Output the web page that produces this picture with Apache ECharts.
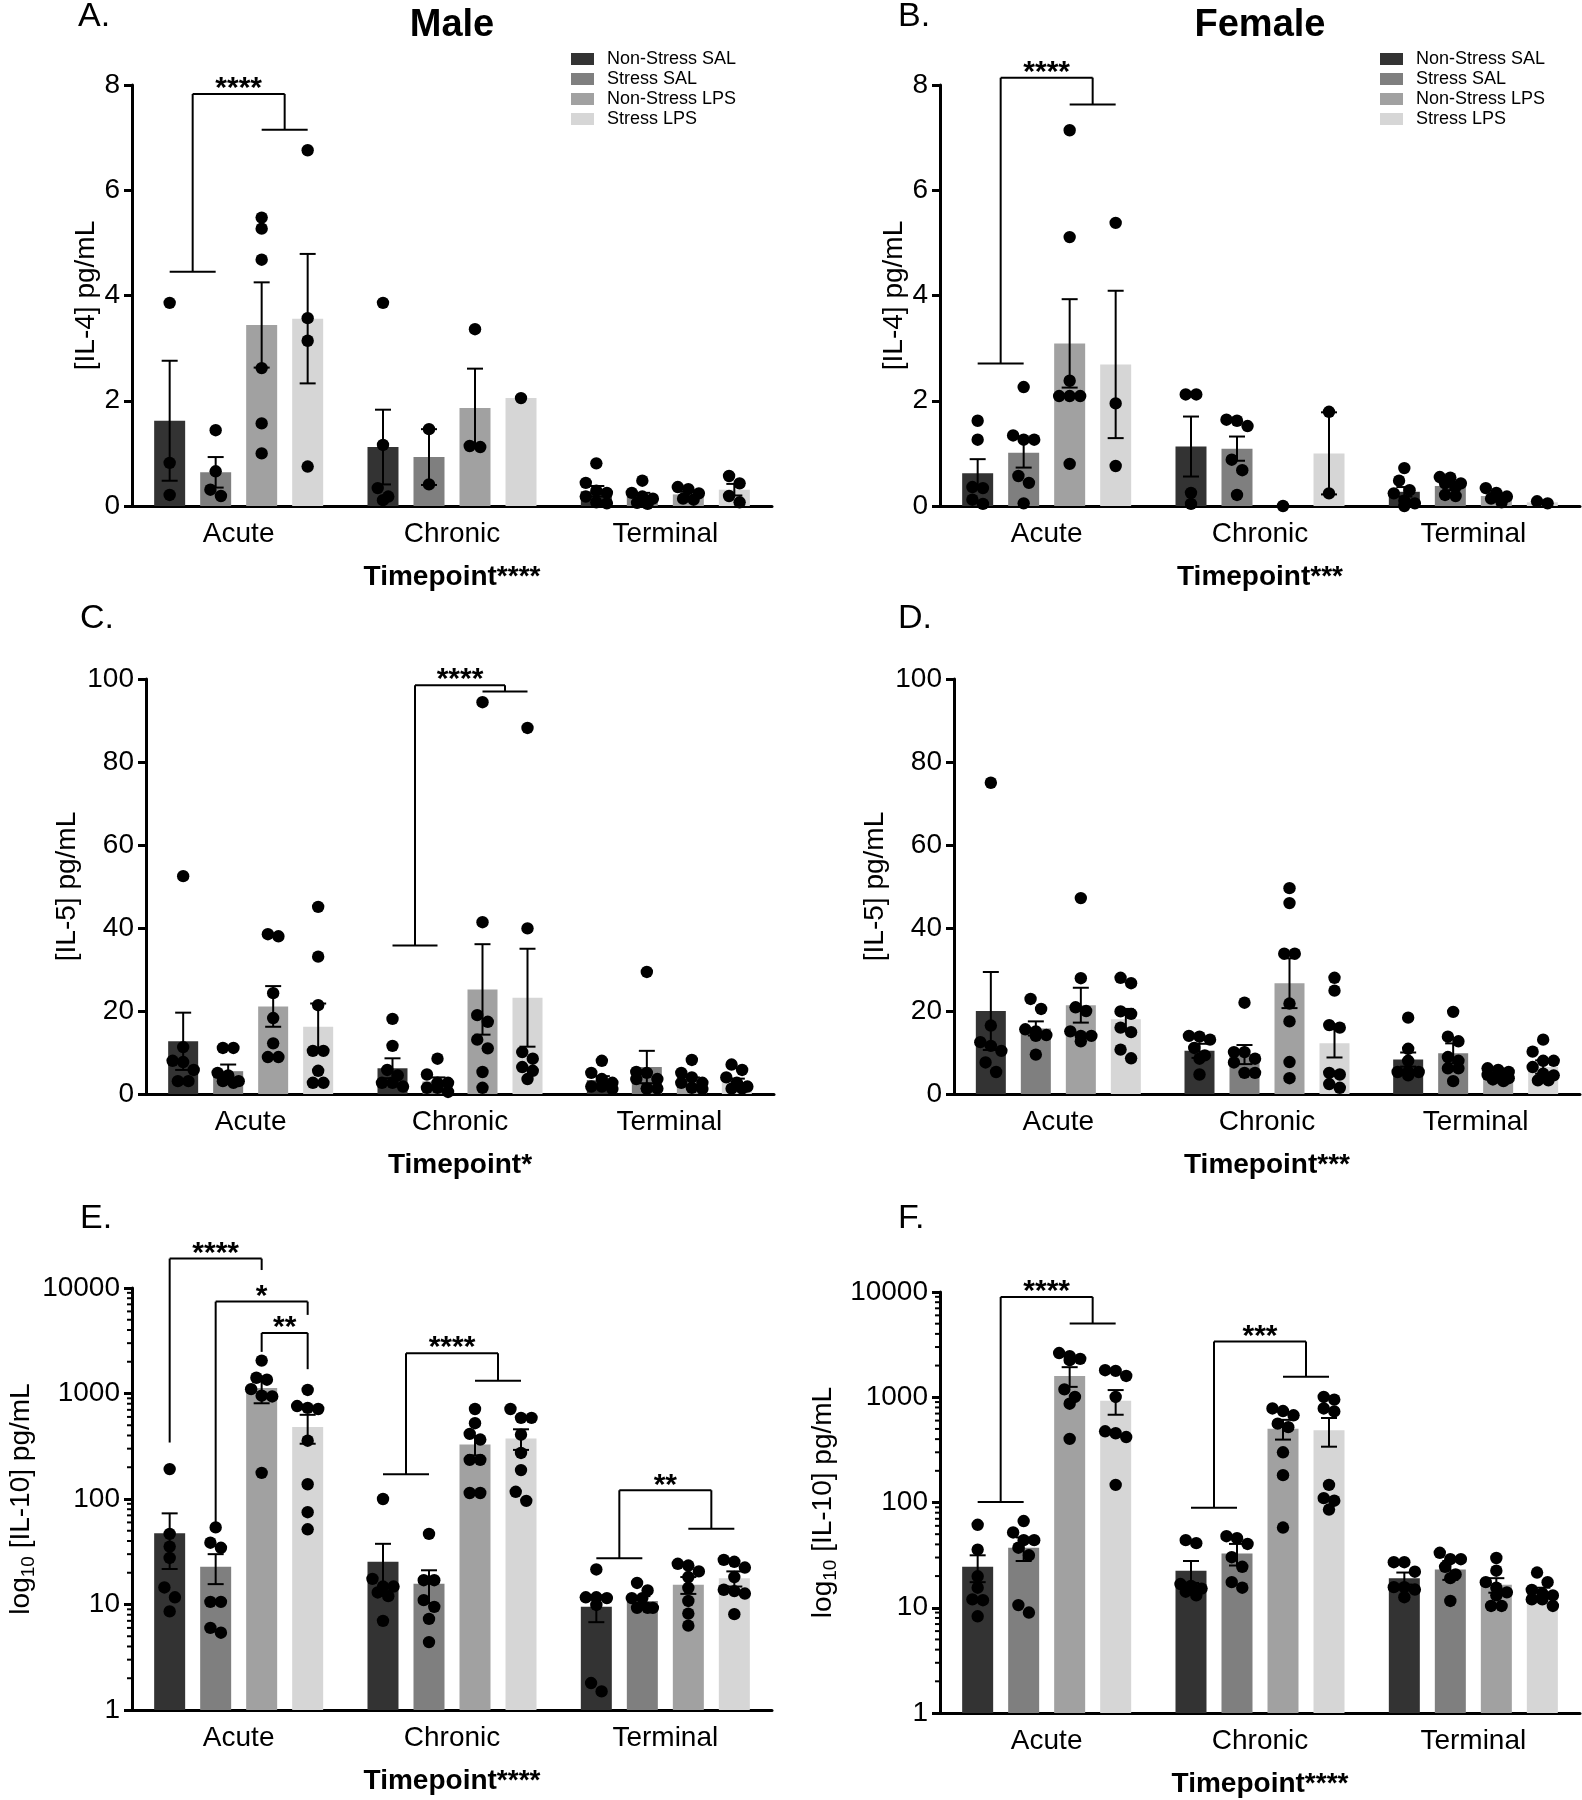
<!DOCTYPE html>
<html><head><meta charset="utf-8">
<script src="https://cdn.jsdelivr.net/npm/echarts@6/dist/echarts.min.js"></script>
<style>html,body{margin:0;padding:0;background:#fff}#c{width:1582px;height:1800px}</style>
</head><body><div id="c"></div>
<script>
// ---------------- DATA ----------------
const categories = ['Acute', 'Chronic', 'Terminal'];
const groups = ['Non-Stress SAL', 'Stress SAL', 'Non-Stress LPS', 'Stress LPS'];

// [timepoint][group]
const A_mean = [[1.62, 0.64, 3.44, 3.56], [1.12, 0.93, 1.86, 2.05], [0.28, 0.19, 0.22, 0.31]];
const A_sem = [[1.14, 0.29, 0.81, 1.23], [0.71, 0.53, 0.75, null], [0.10, 0.06, 0.05, 0.11]];
const A_pts = [
  [[3.86, 0.82, 0.21], [1.44, 0.66, 0.31, 0.19], [5.48, 5.27, 4.68, 2.62, 1.57, 1.0], [6.76, 3.57, 3.14, 0.75]],
  [[3.86, 1.16, 0.34, 0.18, 0.11], [1.46, 0.41], [3.36, 1.14, 1.12], [2.05]],
  [[0.81, 0.44, 0.29, 0.25, 0.18, 0.07, 0.05], [0.48, 0.25, 0.18, 0.14, 0.06, 0.04], [0.36, 0.32, 0.24, 0.14, 0.12], [0.57, 0.43, 0.19, 0.07]]
];

const B_mean = [[0.62, 1.01, 3.09, 2.69], [1.13, 1.09, 0, 1.0], [0.27, 0.38, 0.19, 0.07]];
const B_sem = [[0.27, 0.28, 0.84, 1.40], [0.57, 0.23, null, 0.78], [0.09, 0.08, 0.05, 0.02]];
const B_pts = [
  [[1.62, 1.26, 0.36, 0.34, 0.12, 0.04], [2.26, 1.34, 1.26, 1.26, 0.57, 0.44, 0.05], [7.14, 5.11, 2.38, 2.09, 2.09, 2.09, 0.8], [5.38, 1.95, 0.76]],
  [[2.12, 2.12, 0.25, 0.04], [1.64, 1.62, 1.52, 0.88, 0.68, 0.21], [0], [1.79, 0.24]],
  [[0.72, 0.48, 0.30, 0.24, 0.10, 0.05, 0.0], [0.55, 0.54, 0.43, 0.43, 0.36, 0.21, 0.19], [0.34, 0.25, 0.18, 0.14, 0.07], [0.09, 0.05]]
];

const C_mean = [[12.7, 5.5, 21.1, 16.2], [6.2, 3.0, 25.2, 23.2], [3.3, 6.5, 3.1, 2.9]];
const C_sem = [[6.9, 1.6, 4.9, 5.6], [2.4, 1.0, 10.9, 11.8], [1.0, 3.9, 0.9, 0.8]];
const C_pts = [
  [[52.5, 11.3, 8.0, 7.7, 5.8, 3.1, 3.1], [11.1, 11.1, 5.1, 4.5, 3.1, 3.1, 2.7], [38.5, 38.0, 24.3, 18.3, 12.2, 8.9, 8.9], [45.1, 33.1, 21.4, 10.4, 10.4, 5.6, 2.7, 2.7]],
  [[18.1, 11.6, 5.8, 4.5, 2.7, 2.7, 1.8], [8.5, 4.7, 2.7, 2.7, 1.5, 1.5, 0.5], [94.4, 41.4, 19.0, 17.4, 13.1, 11.0, 5.3, 1.5], [88.2, 39.9, 10.1, 8.5, 6.5, 5.6, 3.6]],
  [[8.0, 5.1, 3.6, 2.7, 1.8, 1.8, 1.2], [29.4, 5.3, 5.1, 3.6, 3.6, 1.3, 1.3, 1.3], [8.2, 5.1, 4.0, 2.7, 2.7, 1.5, 1.2], [7.1, 5.8, 4.0, 2.7, 1.8, 1.3, 1.3]]
];

const D_mean = [[20.0, 15.8, 21.4, 18.0], [10.4, 9.5, 26.7, 12.2], [8.3, 9.8, 4.4, 6.5]];
const D_sem = [[9.4, 1.7, 4.2, 2.5], [1.7, 2.3, 6.0, 3.4], [1.7, 2.4, 0.4, 1.6]];
const D_pts = [
  [[75.0, 16.5, 12.5, 11.6, 10.4, 7.6, 5.3], [22.9, 20.5, 15.6, 15.1, 14.2, 14.0, 9.5], [47.2, 27.9, 20.9, 20.0, 15.1, 14.0, 14.0, 12.7], [28.0, 26.7, 19.9, 19.3, 16.0, 14.9, 10.7, 8.6]],
  [[14.0, 13.8, 13.1, 11.1, 9.3, 8.5, 4.7], [22.0, 10.1, 10.1, 8.5, 7.6, 5.1, 5.1], [49.6, 46.0, 33.8, 33.8, 21.8, 17.5, 7.7, 3.8], [28.0, 24.9, 16.6, 16.0, 5.1, 4.7, 2.4, 1.5]],
  [[18.4, 10.9, 8.0, 5.3, 5.3, 5.3, 4.5], [19.8, 13.8, 12.7, 8.9, 8.0, 6.2, 6.2, 3.1], [6.2, 5.8, 5.3, 4.6, 4.0, 3.8, 3.5, 3.1], [13.1, 10.2, 8.0, 8.0, 6.5, 4.9, 4.5, 3.3, 3.3]]
];

const E_mean = [[47.4, 22.8, 1127, 481], [25.4, 15.7, 328, 375], [9.5, 10.8, 15.4, 17.7]];
const E_sem = [[25.7, 7.2, 319, 147], [12.2, 5.4, 69, 83], [2.7, 1.2, 2.8, 2.9]];
const E_pts = [
  [[192, 46.7, 35.4, 27.6, 14.5, 11.7, 8.6], [53.8, 38.5, 34.5, 10.6, 10.6, 6.0, 5.4], [2051, 1410, 1352, 1099, 953, 937, 177], [1080, 761, 730, 713, 357, 138, 75, 51.6]],
  [[100, 17.5, 14.8, 14.8, 13, 12.0, 7.0], [46.7, 17.0, 17.0, 11.0, 9.5, 7.3, 4.4], [713, 523, 414, 366, 235, 235, 114, 114], [713, 588, 588, 407, 273, 188, 117, 96]],
  [[21.5, 11.7, 11.7, 11.5, 9.9, 1.8, 1.5], [16.0, 13.6, 11.5, 11.5, 9.3, 9.3, 9.3], [24.3, 23.4, 20.6, 18.2, 14.4, 10.8, 8.2, 6.3], [26.5, 25.4, 22.4, 18.2, 13.8, 13.4, 12.7, 8.1]]
];

const F_mean = [[24.5, 37.2, 1593, 926], [22.5, 32.8, 503, 487], [19.1, 23.1, 16.5, 14.2]];
const F_sem = [[7.0, 9.4, 338, 244], [5.3, 7.6, 107, 148], [2.5, 4.7, 2.6, 1.3]];
const F_pts = [
  [[61.4, 35.7, 19.9, 15.5, 12.0, 11.8, 8.3], [66.7, 51.9, 43.9, 43.9, 37.2, 31.5, 10.6, 9.0], [2630, 2460, 2317, 2250, 1189, 1006, 868, 402], [1806, 1780, 1593, 1006, 475, 455, 419, 147]],
  [[43.9, 41.1, 16.8, 16.1, 15.2, 14.2, 13.1], [47.8, 45.8, 40.4, 30.2, 24.5, 17.5, 15.5], [783, 740, 674, 561, 520, 300, 182, 57.8], [1006, 950, 783, 733, 147, 110, 104, 85.7]],
  [[27.1, 27.1, 22.0, 15.7, 15.7, 14.9, 12.6], [33.3, 28.9, 28.9, 24.5, 20.7, 19.1, 11.6], [29.7, 22.5, 17.5, 15.5, 14.0, 13.1, 10.4, 10.4], [21.6, 17.5, 14.8, 13.7, 13.1, 12.0, 12.0, 10.4]]
];

// significance brackets (values in data units)
const A_sig = [{cat: 0, left: [0, 1], right: [2, 3], yL: 4.45, yR: 7.15, yTop: 7.83, label: '****'}];
const B_sig = [{cat: 0, left: [0, 1], right: [2, 3], yL: 2.71, yR: 7.63, yTop: 8.14, label: '****'}];
const C_sig = [{cat: 1, left: [0, 1], right: [2, 3], yL: 35.8, yR: 97.0, yTop: 98.5, label: '****'}];
const D_sig = [];
const E_sig = [
  {cat: 0, left: [0], right: [2], yL: 343, yR: 14800, yTop: 19000, label: '****'},
  {cat: 0, left: [1], right: [3], yL: 55.8, yR: 5560, yTop: 7430, label: '*'},
  {cat: 0, left: [2], right: [3], yL: 2480, yR: 1700, yTop: 3750, label: '**'},
  {cat: 1, left: [0, 1], right: [2, 3], yL: 172, yR: 1320, yTop: 2410, label: '****'},
  {cat: 2, left: [0, 1], right: [2, 3], yL: 27.5, yR: 52.2, yTop: 121, label: '**'}
];
const F_sig = [
  {cat: 0, left: [0, 1], right: [2, 3], yL: 101, yR: 5010, yTop: 8980, label: '****'},
  {cat: 1, left: [0, 1], right: [2, 3], yL: 89.3, yR: 1567, yTop: 3380, label: '***'}
];

// ---------------- STYLE / LAYOUT ----------------
const colors = ['#333333', '#7f7f7f', '#a1a1a1', '#d6d6d6'];
const FONT = '"Liberation Sans", Arial, Helvetica, sans-serif';
const R = 6.2, CAP = 8, MAX_ROW = 3;

const panels = [
  {mean: A_mean, sem: A_sem, pts: A_pts, sig: A_sig, log: false, min: 0, max: 8, interval: 2, yName: '[IL-4] pg/mL', xName: 'Timepoint****',
   grid: {left: 132, top: 85, width: 640, height: 421}, nameGap: 30, barW: 31, gap: 15},
  {mean: B_mean, sem: B_sem, pts: B_pts, sig: B_sig, log: false, min: 0, max: 8, interval: 2, yName: '[IL-4] pg/mL', xName: 'Timepoint***',
   grid: {left: 940, top: 85, width: 640, height: 421}, nameGap: 29, barW: 31, gap: 15},
  {mean: C_mean, sem: C_sem, pts: C_pts, sig: C_sig, log: false, min: 0, max: 100, interval: 20, yName: '[IL-5] pg/mL', xName: 'Timepoint*',
   grid: {left: 146, top: 679, width: 628, height: 415}, nameGap: 65, barW: 30, gap: 15},
  {mean: D_mean, sem: D_sem, pts: D_pts, sig: D_sig, log: false, min: 0, max: 100, interval: 20, yName: '[IL-5] pg/mL', xName: 'Timepoint***',
   grid: {left: 954, top: 679, width: 626, height: 415}, nameGap: 65, barW: 30, gap: 15},
  {mean: E_mean, sem: E_sem, pts: E_pts, sig: E_sig, log: true, min: 1, max: 10000, yName: 'log10', xName: 'Timepoint****',
   grid: {left: 132, top: 1288, width: 640, height: 422}, nameGap: 91, barW: 31, gap: 15},
  {mean: F_mean, sem: F_sem, pts: F_pts, sig: F_sig, log: true, min: 1, max: 10000, yName: 'log10', xName: 'Timepoint****',
   grid: {left: 940, top: 1292, width: 640, height: 421}, nameGap: 100, barW: 31, gap: 15}
];

const MINOR = [];
for (let k = 0; k < 4; k++) for (let m = 2; m <= 9; m++) MINOR.push(m * Math.pow(10, k));

function swarm(ys) {
  // GraphPad-like: cluster dots whose pixel y are close (max 3 per row), spread symmetrically
  const idx = ys.map((y, i) => i).sort((a, b) => ys[a] - ys[b]);
  const xs = new Array(ys.length).fill(0);
  let grp = [];
  const flush = () => {
    const n = grp.length;
    grp.forEach((i, k) => { xs[i] = (k - (n - 1) / 2) * (2 * R * 0.85); });
    grp = [];
  };
  idx.forEach(i => {
    if (grp.length && (ys[i] - ys[grp[0]] >= 2 * R * 0.85 || grp.length >= MAX_ROW)) flush();
    grp.push(i);
  });
  flush();
  return xs;
}

function ln(x1, y1, x2, y2, w) {
  return {type: 'line', shape: {x1, y1, x2, y2}, style: {stroke: '#000', lineWidth: w || 2}};
}

function makeRenderPoints(p) {
  return function (params, api) {
    const cat = api.value(0), t = api.value(2);
    const cx = api.coord([cat, p.min])[0] + (t - 1.5) * (p.barW + p.gap);
    const children = [];
    const m = p.mean[cat][t], s = p.sem[cat][t];
    if (s != null) {
      const yT = api.coord([cat, m + s])[1];
      const yB = api.coord([cat, Math.max(m - s, p.log ? 1e-6 : -1e9)])[1];
      children.push(ln(cx, yT, cx, yB), ln(cx - CAP, yT, cx + CAP, yT), ln(cx - CAP, yB, cx + CAP, yB));
    }
    const ys = p.pts[cat][t].map(v => api.coord([cat, v])[1]);
    const xs = swarm(ys);
    ys.forEach((y, k) => children.push({type: 'circle', shape: {cx: cx + xs[k], cy: y, r: R}, style: {fill: '#000'}}));
    return {type: 'group', children};
  };
}

function makeRenderSig(p) {
  return function (params, api) {
    const s = p.sig[api.value(2)];
    const base = api.coord([s.cat, p.min])[0];
    const bx = t => base + (t - 1.5) * (p.barW + p.gap);
    const Y = v => api.coord([s.cat, v])[1];
    const avg = a => a.reduce((q, t) => q + bx(t), 0) / a.length;
    const lx = avg(s.left), rx = avg(s.right);
    const yT = Y(s.yTop), yL = Y(s.yL), yR = Y(s.yR);
    const ch = [ln(lx, yT, rx, yT), ln(lx, yT, lx, yL), ln(rx, yT, rx, yR)];
    if (s.left.length > 1) ch.push(ln(bx(s.left[0]), yL, bx(s.left[s.left.length - 1]), yL));
    if (s.right.length > 1) ch.push(ln(bx(s.right[0]), yR, bx(s.right[s.right.length - 1]), yR));
    ch.push({type: 'text', x: (lx + rx) / 2, y: yT - 5,
      style: {text: s.label, fontSize: 30, fontWeight: 'bold', fontFamily: FONT, fill: '#000', align: 'center', verticalAlign: 'middle'}});
    return {type: 'group', children: ch};
  };
}

function renderMinor(params, api) {
  const y = api.coord([0, api.value(1)])[1];
  const x = params.coordSys.x;
  return ln(x - 5, y, x, y, 2);
}

const grids = [], xAxes = [], yAxes = [], series = [];
panels.forEach((p, i) => {
  grids.push(Object.assign({containLabel: false}, p.grid));
  xAxes.push({
    type: 'category', gridIndex: i, data: categories,
    axisLine: {onZero: false, lineStyle: {color: '#000', width: 3}},
    axisTick: {alignWithLabel: true, length: 8, lineStyle: {width: 3, color: '#000'}},
    axisLabel: {fontSize: 28, color: '#000', fontFamily: FONT, margin: 14},
    name: p.xName, nameLocation: 'middle', nameGap: 57,
    nameTextStyle: {fontSize: 28, fontWeight: 'bold', color: '#000', fontFamily: FONT}
  });
  const ya = {
    gridIndex: i, min: p.min, max: p.max,
    axisLine: {show: true, lineStyle: {color: '#000', width: 3}},
    axisTick: {show: true, length: 8, lineStyle: {width: 3, color: '#000'}},
    splitLine: {show: false},
    axisLabel: {fontSize: 28, color: '#000', fontFamily: FONT, margin: 12, formatter: v => String(Math.round(v))},
    nameLocation: 'middle', nameGap: p.nameGap, nameRotate: 90
  };
  if (p.log) {
    ya.type = 'log'; ya.logBase = 10; ya.splitNumber = 4;
    ya.name = '{n|log}{s|10}{n| [IL-10] pg/mL}';
    ya.nameTextStyle = {color: '#000', fontFamily: FONT, rich: {
      n: {fontSize: 28, fontFamily: FONT, color: '#000', lineHeight: 34, verticalAlign: 'middle'},
      s: {fontSize: 19, fontFamily: FONT, color: '#000', lineHeight: 34, verticalAlign: 'bottom', padding: [0, 0, 0, 0]}
    }};
  } else {
    ya.type = 'value'; ya.interval = p.interval;
    ya.name = p.yName;
    ya.nameTextStyle = {fontSize: 28, color: '#000', fontFamily: FONT};
  }
  yAxes.push(ya);

  groups.forEach((g, t) => {
    series.push({
      type: 'bar', name: g, xAxisIndex: i, yAxisIndex: i,
      data: p.mean.map(row => row[t]),
      barWidth: p.barW, barGap: (p.gap / p.barW * 100).toFixed(1) + '%',
      itemStyle: {color: colors[t]}, z: 2, silent: true
    });
  });
  const items = [];
  categories.forEach((c, ci) => groups.forEach((g, t) => items.push([ci, p.log ? Math.max(p.mean[ci][t], 1) : p.mean[ci][t], t])));
  series.push({type: 'custom', xAxisIndex: i, yAxisIndex: i, coordinateSystem: 'cartesian2d',
    renderItem: makeRenderPoints(p), data: items, z: 5, clip: false, silent: true, encode: {x: 0, y: 1}});
  if (p.sig.length) {
    series.push({type: 'custom', xAxisIndex: i, yAxisIndex: i, coordinateSystem: 'cartesian2d',
      renderItem: makeRenderSig(p), data: p.sig.map((s, k) => [s.cat, s.yTop, k]), z: 6, clip: false, silent: true, encode: {x: 0, y: 1}});
  }
  if (p.log) {
    series.push({type: 'custom', xAxisIndex: i, yAxisIndex: i, coordinateSystem: 'cartesian2d',
      renderItem: renderMinor, data: MINOR.map(v => [0, v]), z: 4, clip: false, silent: true, encode: {x: 0, y: 1}});
  }
});

const legendBase = {
  data: groups, orient: 'vertical', itemWidth: 23, itemHeight: 12, itemGap: 2, icon: 'rect', selectedMode: false,
  textStyle: {fontSize: 18, color: '#000', fontFamily: FONT, padding: [0, 0, 0, 8]}
};

const txt = (text, x, y, size, bold, align) => ({type: 'text', x, y, silent: true,
  style: {text, fontSize: size, fontWeight: bold ? 'bold' : 'normal', fontFamily: FONT, fill: '#000', align: align || 'left', verticalAlign: 'middle'}});

const chart = echarts.init(document.getElementById('c'), null, {renderer: 'canvas'});
chart.setOption({
  animation: false,
  backgroundColor: '#fff',
  grid: grids, xAxis: xAxes, yAxis: yAxes, series,
  legend: [Object.assign({left: 566, top: 45}, legendBase), Object.assign({left: 1375, top: 45}, legendBase)],
  graphic: [
    txt('A.', 78, 17, 34), txt('B.', 898, 17, 34),
    txt('C.', 80, 619, 34), txt('D.', 898, 619, 34),
    txt('E.', 80, 1219, 34), txt('F.', 898, 1219, 34),
    txt('Male', 452, 26, 38, true, 'center'), txt('Female', 1260, 26, 38, true, 'center')
  ]
});
</script></body></html>
